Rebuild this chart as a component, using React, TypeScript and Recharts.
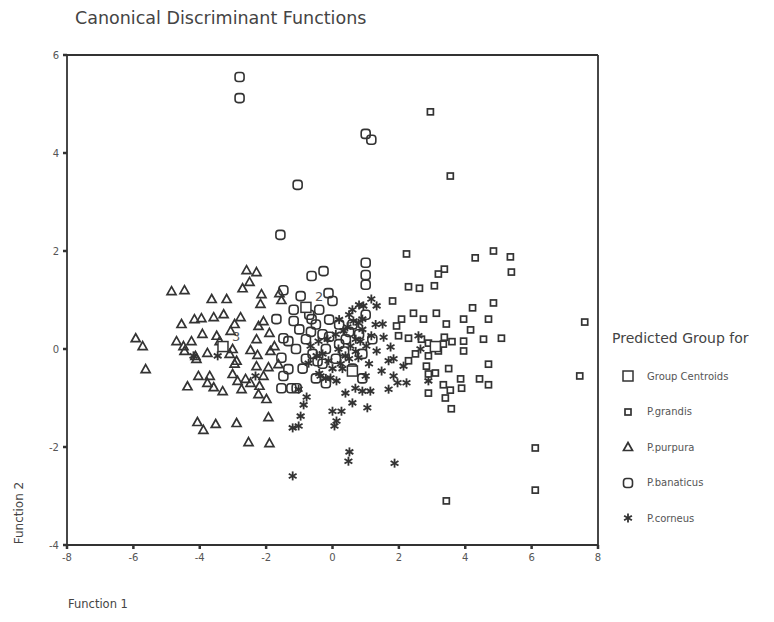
import {
  ScatterChart,
  Scatter,
  XAxis,
  YAxis,
  ReferenceLine,
} from "recharts";

type Pt = [number, number];

const xTicks = [-8, -6, -4, -2, 0, 2, 4, 6, 8];
const yTicks = [-4, -2, 0, 2, 4, 6];

const legendLabels = [
  "Group Centroids",
  "P.grandis",
  "P.purpura",
  "P.banaticus",
  "P.corneus",
];

// group centroids (labels only where visible in the source figure)
const centroids: Pt[] = [
  [3.1, 0.05],
  [-0.8, 0.85],
  [-3.3, 0.05],
  [0.6, -0.45],
];
const centroidLabels = ["", "2", "3", ""];

const grandis: Pt[] = [
  [2.95, 4.84], [3.55, 3.53], [2.23, 1.94], [4.3, 1.86], [4.85, 2.0],
  [5.36, 1.88], [5.39, 1.57], [3.37, 1.63], [3.19, 1.53], [3.07, 1.29],
  [2.29, 1.27], [2.62, 1.24], [7.6, 0.55], [7.45, -0.55], [6.11, -2.02],
  [6.11, -2.88], [3.43, -3.1], [4.22, 0.84], [4.85, 0.94], [4.7, 0.61],
  [3.95, 0.61], [4.16, 0.39], [3.95, 0.16], [3.95, -0.04], [5.09, 0.22],
  [4.55, 0.2], [4.7, -0.31], [3.86, -0.61], [3.89, -0.8], [4.43, -0.61],
  [4.7, -0.73], [3.34, -0.73], [3.55, -0.84], [3.4, -1.0], [3.58, -1.22],
  [2.89, -0.9], [3.34, 0.1], [3.43, 0.51], [3.37, 0.24], [3.19, -0.04],
  [2.89, -0.14], [2.68, 0.2], [2.29, 0.22], [2.74, 0.61], [3.13, 0.73],
  [2.44, 0.73], [2.08, 0.61], [1.99, 0.27], [2.29, -0.24], [2.83, -0.35],
  [3.1, -0.49], [2.89, -0.51], [1.81, 0.98], [1.93, 0.47], [2.89, 0.12],
  [3.5, -0.4], [3.6, 0.15], [2.5, -0.1],
];

const purpura: Pt[] = [
  [-5.93, 0.22], [-5.72, 0.06], [-5.63, -0.41], [-4.85, 1.18], [-4.46, 1.2],
  [-4.55, 0.51], [-2.59, 1.61], [-2.29, 1.57], [-2.5, 1.37], [-2.71, 1.24],
  [-3.64, 1.02], [-3.19, 1.02], [-4.16, 0.61], [-3.95, 0.63], [-3.58, 0.65],
  [-3.28, 0.71], [-2.77, 0.65], [-2.95, 0.51], [-3.07, 0.37], [-3.49, 0.27],
  [-3.92, 0.31], [-4.25, 0.16], [-4.49, 0.06], [-4.7, 0.16], [-4.46, -0.04],
  [-4.13, -0.14], [-3.77, -0.08], [-3.4, 0.16], [-4.04, -0.55], [-3.7, -0.55],
  [-4.37, -0.76], [-3.77, -0.69], [-3.58, -0.78], [-3.31, -0.86], [-3.01, 0.0],
  [-2.89, -0.24], [-3.01, -0.51], [-2.86, -0.65], [-2.62, -0.61], [-2.74, -0.82],
  [-2.47, -0.69], [-4.07, -1.49], [-3.89, -1.65], [-3.52, -1.53], [-2.89, -1.51],
  [-2.53, -1.9], [-1.9, -1.92], [-1.93, -1.39], [-1.99, -1.02], [-2.23, -0.92],
  [-2.08, -0.55], [-2.29, -0.35], [-2.26, -0.12], [-2.29, 0.2], [-2.23, 0.47],
  [-2.08, 0.57], [-2.17, 0.92], [-2.14, 1.12], [-1.6, 1.14], [-1.54, 1.0],
  [-1.9, 0.33], [-1.87, -0.04], [-1.93, -0.37], [-1.63, -0.31], [-1.75, 0.06],
  [-2.47, -0.02], [-3.1, -0.1], [-2.95, -0.3], [-4.1, -0.2], [-2.2, -0.75],
];

const banaticus: Pt[] = [
  [-2.8, 5.55], [-2.8, 5.12], [1.0, 4.39], [1.17, 4.27], [-1.05, 3.35],
  [-1.57, 2.33], [1.0, 1.76], [1.0, 1.51], [1.0, 1.31], [-0.27, 1.59],
  [-0.63, 1.49], [-1.48, 1.2], [-0.96, 1.08], [-0.12, 1.14], [0.0, 0.98],
  [-1.17, 0.8], [-1.69, 0.61], [-1.17, 0.57], [-0.63, 0.61], [-1.48, 0.22],
  [-1.33, 0.16], [-1.54, -0.18], [-1.33, -0.41], [-1.48, -0.55], [-1.54, -0.8],
  [-1.24, -0.8], [-1.08, -0.8], [-0.5, 0.5], [-0.3, 0.3], [-0.1, 0.6],
  [0.2, 0.5], [-0.8, 0.2], [-0.6, -0.1], [-0.3, -0.3], [0.1, -0.2],
  [-0.9, -0.4], [-0.5, -0.6], [0.4, 0.2], [0.6, 0.5], [0.8, 0.3],
  [0.9, -0.1], [0.6, -0.4], [-0.2, 0.0], [-1.0, 0.4], [-0.7, 0.7],
  [-0.4, 0.8], [1.0, 0.7], [1.2, 0.2], [0.9, -0.6], [-0.2, -0.7],
  [-0.8, -0.2], [0.2, 0.1], [-0.65, 0.35], [-0.1, 0.25], [0.35, -0.05],
  [-0.45, -0.25], [-1.1, 0.0], [0.5, 0.35],
];

const corneus: Pt[] = [
  [-1.2, -2.59], [0.51, -2.1], [0.48, -2.29], [1.87, -2.33], [-1.2, -1.61],
  [-1.02, -1.57], [-0.96, -1.37], [-0.87, -1.14], [-0.78, -0.98], [0.0, -1.27],
  [0.06, -1.57], [0.12, -1.47], [0.27, -1.27], [0.6, -1.1], [1.05, -1.2],
  [0.39, -0.9], [0.69, -0.8], [0.9, -0.86], [1.14, -0.86], [-0.06, -0.59],
  [-0.36, -0.55], [0.12, -0.65], [0.78, -0.18], [0.84, 0.16], [0.9, 0.61],
  [0.78, 0.53], [1.17, 1.02], [1.33, 0.88], [0.93, 0.88], [1.51, 0.51],
  [1.17, 0.27], [1.54, 0.24], [1.75, 0.04], [1.33, -0.04], [1.69, -0.24],
  [1.48, -0.45], [1.84, -0.55], [1.96, -0.69], [2.23, -0.69], [2.14, -0.35],
  [1.84, -0.2], [1.69, -0.82], [0.39, -0.14], [0.54, 0.06], [0.33, 0.37],
  [0.18, 0.0], [-0.12, -0.24], [-0.48, -0.14], [-0.66, 0.06], [-0.42, 0.16],
  [-0.72, -0.29], [0.63, 0.57], [1.02, 0.06], [2.65, 0.0], [2.59, 0.27],
  [2.89, -0.65], [-3.46, -0.14], [-4.19, -0.14], [-2.32, -0.55], [-1.02, -0.82],
  [0.1, 0.3], [0.3, -0.4], [0.5, -0.2], [0.7, 0.2], [-0.3, -0.1],
  [0.0, -0.4], [-0.4, -0.5], [-0.2, -0.6], [0.5, 0.7], [0.9, 0.4],
  [1.1, -0.3], [1.3, 0.5], [0.2, 0.6], [0.8, 0.9], [0.6, 0.8],
  [0.45, 0.45], [0.7, -0.05], [-0.15, 0.2], [1.0, -0.55], [0.25, -0.3],
];

const toRows = (pts: Pt[]) => pts.map(([x, y]) => ({ x, y }));

const INK = "#333";
const FONT = "'DejaVu Sans', Verdana, sans-serif";

function SmallSquare({ cx, cy }: any) {
  return (
    <rect x={cx - 3} y={cy - 3} width={6} height={6} fill="#fff" stroke={INK} strokeWidth={1.7} />
  );
}

function BigSquare({ cx, cy }: any) {
  return (
    <rect x={cx - 5} y={cy - 5} width={10} height={10} fill="#fff" stroke={INK} strokeWidth={1.5} />
  );
}

function Triangle({ cx, cy }: any) {
  return (
    <polygon
      points={`${cx},${cy - 4.5} ${cx + 4.5},${cy + 3.5} ${cx - 4.5},${cy + 3.5}`}
      fill="#fff"
      fillOpacity={0}
      stroke={INK}
      strokeWidth={1.7}
    />
  );
}

function RoundBox({ cx, cy }: any) {
  return (
    <rect
      x={cx - 4.5}
      y={cy - 4.5}
      width={9}
      height={9}
      rx={3}
      fill="#fff"
      fillOpacity={0}
      stroke={INK}
      strokeWidth={1.6}
    />
  );
}

function Star({ cx, cy }: any) {
  const r = 4.5;
  const d = r * 0.87;
  return (
    <g stroke={INK} strokeWidth={1.8}>
      <line x1={cx} y1={cy - r} x2={cx} y2={cy + r} />
      <line x1={cx - d} y1={cy - r / 2} x2={cx + d} y2={cy + r / 2} />
      <line x1={cx - d} y1={cy + r / 2} x2={cx + d} y2={cy - r / 2} />
    </g>
  );
}

function CentroidShape(props: any) {
  const label = centroidLabels[props.index] ?? "";
  return (
    <g>
      <BigSquare cx={props.cx} cy={props.cy} />
      {label && (
        <text x={props.cx + 9} y={props.cy - 6} fontSize={13} fill="#555" fontFamily={FONT}>
          {label}
        </text>
      )}
    </g>
  );
}

const legendShapes = [BigSquare, SmallSquare, Triangle, RoundBox, Star];

export default function App() {
  return (
    <div style={{ position: "absolute", left: 0, top: 0, width: 774, height: 622, background: "#fff", fontFamily: FONT }}>
      <div style={{ position: "absolute", left: 75, top: 8, fontSize: 17.5, color: "#444", whiteSpace: "nowrap" }}>
        Canonical Discriminant Functions
      </div>

      <ScatterChart
        width={774}
        height={622}
        margin={{ top: 55, right: 176, bottom: 47, left: 27 }}
      >
        <XAxis
          type="number"
          dataKey="x"
          domain={[-8, 8]}
          ticks={xTicks}
          interval={0}
          height={30}
          stroke={INK}
          tickSize={4}
          tickMargin={5}
          tickLine={{ stroke: INK, strokeWidth: 2.5 }}
          axisLine={{ stroke: INK, strokeWidth: 1.8 }}
          tick={{ fontSize: 10, fill: "#555", fontFamily: FONT }}
          allowDataOverflow
        />
        <YAxis
          type="number"
          dataKey="y"
          domain={[-4, 6]}
          ticks={yTicks}
          interval={0}
          width={40}
          stroke={INK}
          tickSize={4}
          tickMargin={4}
          tickLine={{ stroke: INK, strokeWidth: 2.5 }}
          axisLine={{ stroke: INK, strokeWidth: 1.8 }}
          tick={{ fontSize: 10, fill: "#555", fontFamily: FONT }}
          allowDataOverflow
        />
        <ReferenceLine x={8} stroke={INK} strokeWidth={1.8} />
        <ReferenceLine y={6} stroke={INK} strokeWidth={1.8} />
        <Scatter data={toRows(grandis)} shape={SmallSquare} isAnimationActive={false} />
        <Scatter data={toRows(purpura)} shape={Triangle} isAnimationActive={false} />
        <Scatter data={toRows(banaticus)} shape={RoundBox} isAnimationActive={false} />
        <Scatter data={toRows(corneus)} shape={Star} isAnimationActive={false} />
        <Scatter data={toRows(centroids)} shape={CentroidShape} isAnimationActive={false} />
      </ScatterChart>

      <div
        style={{
          position: "absolute",
          left: 4,
          top: 513,
          transform: "translate(0, -50%) rotate(-90deg)",
          transformOrigin: "center",
          fontSize: 12,
          color: "#444",
          whiteSpace: "nowrap",
          width: 30,
          display: "flex",
          justifyContent: "center",
        }}
      >
        Function 2
      </div>
      <div style={{ position: "absolute", left: 68, top: 597, fontSize: 11.5, color: "#444" }}>
        Function 1
      </div>

      {/* legend */}
      <div style={{ position: "absolute", left: 612, top: 330, fontSize: 14, color: "#444", whiteSpace: "nowrap" }}>
        Predicted Group for
      </div>
      {legendLabels.map((name, i) => {
        const Shape = legendShapes[i];
        return (
          <div
            key={name}
            style={{
              position: "absolute",
              left: 620,
              top: 368 + i * 35.5,
              display: "flex",
              alignItems: "center",
              fontSize: 10,
              color: "#555",
              whiteSpace: "nowrap",
            }}
          >
            <svg width={16} height={16}>
              <Shape cx={8} cy={8} />
            </svg>
            <span style={{ marginLeft: 11 }}>{name}</span>
          </div>
        );
      })}
    </div>
  );
}
